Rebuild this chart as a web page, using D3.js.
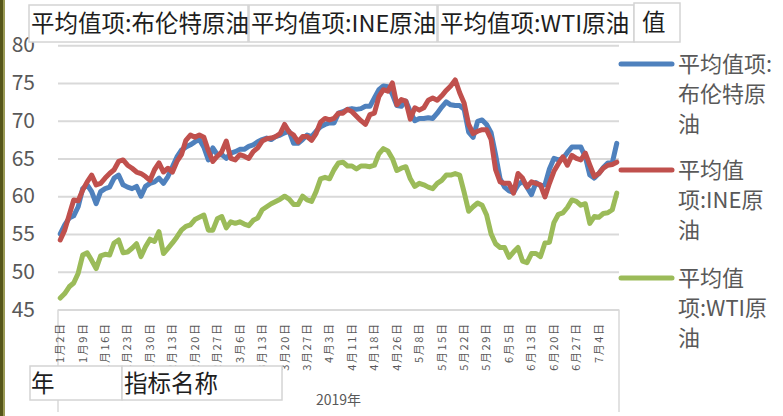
<!DOCTYPE html>
<html>
<head>
<meta charset="utf-8">
<script src="https://cdn.jsdelivr.net/npm/d3@7"></script>
<style>
body{margin:0;background:#fff;}
text{font-family:"Noto Sans CJK SC","Noto Sans",sans-serif;}
</style>
</head>
<body>
<svg id="chart" width="783" height="416"></svg>
<script>
// trading days, 2019
var dates = ["1月2日","1月3日","1月4日","1月7日","1月8日","1月9日","1月10日","1月11日","1月14日","1月15日","1月16日","1月17日","1月18日","1月21日","1月22日","1月23日","1月24日","1月25日","1月28日","1月29日","1月30日","1月31日",
"2月1日","2月11日","2月12日","2月13日","2月14日","2月15日","2月18日","2月19日","2月20日","2月21日","2月22日","2月25日","2月26日","2月27日","2月28日",
"3月1日","3月4日","3月5日","3月6日","3月7日","3月8日","3月11日","3月12日","3月13日","3月14日","3月15日","3月18日","3月19日","3月20日","3月21日","3月22日","3月25日","3月26日","3月27日","3月28日","3月29日",
"4月1日","4月2日","4月3日","4月4日","4月8日","4月9日","4月10日","4月11日","4月12日","4月15日","4月16日","4月17日","4月18日","4月22日","4月23日","4月24日","4月25日","4月26日","4月29日","4月30日",
"5月6日","5月7日","5月8日","5月9日","5月10日","5月13日","5月14日","5月15日","5月16日","5月17日","5月20日","5月21日","5月22日","5月23日","5月24日","5月27日","5月28日","5月29日","5月30日","5月31日",
"6月3日","6月4日","6月5日","6月6日","6月10日","6月11日","6月12日","6月13日","6月14日","6月17日","6月18日","6月19日","6月20日","6月21日","6月24日","6月25日","6月26日","6月27日","6月28日",
"7月1日","7月2日","7月3日","7月4日","7月5日","7月8日","7月9日","7月10日"];

var brent = [55.0,56.2,57.1,57.4,58.6,61.0,61.5,60.6,59.0,60.6,61.0,61.2,62.4,62.8,61.5,61.2,61.0,61.3,60.0,61.3,
61.7,61.9,62.4,61.7,62.6,63.9,65.2,66.1,66.5,66.8,67.2,67.5,66.5,64.8,66.4,65.5,65.5,65.0,65.7,65.9,
66.2,66.2,66.6,66.8,67.2,67.5,67.7,67.5,67.9,68.1,68.4,68.6,67.0,67.0,67.5,68.1,67.9,68.6,69.2,69.5,
69.7,69.7,71.0,71.2,71.5,71.6,71.5,71.6,71.9,71.9,73.0,74.1,74.6,74.5,73.5,72.0,71.9,72.6,71.2,70.0,
70.3,70.3,70.4,70.3,71.0,71.8,72.5,72.1,72.0,72.0,71.5,68.5,67.8,69.9,70.1,69.5,68.4,65.5,62.3,61.2,
60.7,60.5,61.5,62.0,61.2,60.2,61.8,61.4,61.5,63.6,65.0,64.8,65.0,65.8,66.5,66.5,66.5,65.2,62.8,62.4,
63.0,63.8,64.4,64.4,67.0];

var ine = [54.2,55.5,57.5,59.5,59.4,60.8,61.9,62.8,61.5,61.7,62.4,63.0,63.5,64.6,64.8,64.1,63.7,63.2,63.0,62.6,
62.1,63.5,64.4,63.2,63.7,63.2,64.6,65.5,67.4,68.1,67.8,68.1,67.8,66.0,64.6,65.3,65.9,67.3,65.0,64.8,
65.5,65.3,65.0,65.9,66.4,67.3,67.6,67.7,67.9,68.3,69.5,68.5,68.1,67.2,67.9,67.9,67.4,68.3,69.8,70.3,
70.1,70.3,71.0,71.0,71.5,71.2,70.6,70.0,69.5,70.8,71.0,73.2,74.1,73.9,75.0,72.1,72.8,72.6,70.2,71.7,
71.4,71.7,72.7,73.0,72.7,73.3,74.0,74.6,75.4,73.7,72.3,69.5,68.3,68.6,68.8,68.8,67.5,63.5,61.9,61.7,
61.7,60.4,63.0,62.4,61.2,61.9,61.7,61.5,59.9,61.7,63.3,64.3,65.2,64.1,65.4,65.0,64.8,65.7,64.1,62.6,
63.0,63.7,64.1,64.2,64.5];

var wti = [46.5,47.1,48.0,48.5,49.8,52.2,52.5,51.5,50.4,52.1,52.3,52.2,53.8,54.2,52.5,52.6,53.1,53.7,52.0,53.3,
54.3,54.0,55.3,52.4,53.1,53.8,54.6,55.5,56.0,56.2,56.9,57.2,57.5,55.5,55.5,57.0,57.3,55.8,56.6,56.4,
56.6,56.3,56.1,56.8,57.1,58.2,58.6,59.0,59.3,59.6,60.0,59.6,58.9,58.9,60.0,59.5,59.3,60.6,62.3,62.5,
62.3,63.5,64.4,64.5,64.0,64.0,63.6,64.0,64.0,63.9,64.1,65.6,66.3,66.0,65.0,63.4,63.7,63.9,62.3,61.3,
61.7,61.5,61.2,61.0,61.7,62.1,62.8,62.8,63.0,62.8,60.5,58.0,58.6,59.1,58.8,57.5,55.0,53.7,53.2,53.2,
51.9,52.6,53.2,51.4,51.2,52.4,52.4,52.0,53.8,53.9,56.5,57.6,57.8,58.5,59.5,59.3,58.8,59.0,56.4,57.3,
57.2,57.7,57.8,58.2,60.4];

var yTicks = [45,50,55,60,65,70,75,80];
var seriesNames = ["平均值项:布伦特原油","平均值项:INE原油","平均值项:WTI原油"];
var legendLines = [["平均值项:","布伦特原","油"],["平均值","项:INE原","油"],["平均值","项:WTI原","油"]];
var yearLabel = "2019年";
var colors = ["#4f81bd","#c0504d","#9bbb59"];

var svg = d3.select("#chart");
var plotLeft = 58, plotRight = 619, plotTop = 45.2, plotBottom = 309.4;

// left dark strip
svg.append("rect").attr("x",0).attr("y",0).attr("width",3).attr("height",416).attr("fill","#56561a");
svg.append("rect").attr("x",3).attr("y",0).attr("width",2).attr("height",416).attr("fill","#9a9a55");

var x = d3.scaleBand().domain(dates).range([plotLeft,plotRight]).padding(0);
var y = d3.scaleLinear().domain([45,80]).range([plotBottom,plotTop]);

// grid + y labels
var yAxis = svg.append("g").attr("transform","translate("+plotLeft+",0)")
  .call(d3.axisLeft(y).tickValues(yTicks).tickSize(-(plotRight-plotLeft)).tickPadding(23).tickFormat(d3.format("d")));
yAxis.select(".domain").remove();
yAxis.selectAll(".tick line").attr("stroke","#d9d9d9").attr("stroke-width",2);
yAxis.selectAll(".tick text").attr("fill","#595959").attr("font-size","21px")
  .attr("font-family","'Noto Sans CJK SC',sans-serif");

// category axis frame
svg.append("line").attr("x1",plotLeft).attr("x2",plotLeft).attr("y1",plotBottom).attr("y2",412).attr("stroke","#d9d9d9").attr("stroke-width",1.5);
svg.append("line").attr("x1",plotRight).attr("x2",plotRight).attr("y1",plotBottom).attr("y2",412).attr("stroke","#d9d9d9").attr("stroke-width",1.5);

var xAxis = svg.append("g").attr("transform","translate(0,"+plotBottom+")")
  .call(d3.axisBottom(x).tickValues(dates.filter(function(d,i){return i%5==0;})).tickSize(0).tickPadding(0));
xAxis.select(".domain").remove();
xAxis.selectAll(".tick text")
  .attr("transform","translate(0,13) rotate(-90)")
  .attr("text-anchor","end").attr("x",0).attr("y",0).attr("dy","0.35em")
  .attr("fill","#595959").attr("font-size","11px").attr("letter-spacing","1.6px");

svg.append("text").attr("x",(plotLeft+plotRight)/2).attr("y",405).attr("text-anchor","middle")
  .attr("fill","#595959").attr("font-size","14px").text(yearLabel);

// lines
var line = d3.line().x(function(d,i){return x(dates[i])+x.bandwidth()/2;}).y(function(d){return y(d);});
[brent,ine,wti].forEach(function(s,k){
  svg.append("path").datum(s).attr("d",line).attr("fill","none").attr("stroke",colors[k])
    .attr("stroke-width",5).attr("stroke-linejoin","round").attr("stroke-linecap","round");
});

// legend
var legY = [64,170,278];
legendLines.forEach(function(lines,k){
  svg.append("line").attr("x1",621).attr("x2",672).attr("y1",legY[k]).attr("y2",legY[k])
    .attr("stroke",colors[k]).attr("stroke-width",5).attr("stroke-linecap","round");
  lines.forEach(function(t,j){
    svg.append("text").attr("x",678).attr("y",legY[k]+j*30+8).attr("fill","#595959")
      .attr("font-size","22px").text(t);
  });
});

// field buttons
function button(x0,y0,w,h,label,clipId,pad){
  svg.append("clipPath").attr("id",clipId).append("rect").attr("x",x0).attr("y",y0).attr("width",w).attr("height",h);
  svg.append("rect").attr("x",x0).attr("y",y0).attr("width",w).attr("height",h)
    .attr("fill","#fff").attr("stroke","#d4d4d4").attr("stroke-width",1.5);
  svg.append("text").attr("x",x0+pad).attr("y",y0+h/2+8.5).attr("fill","#1e1e1e")
    .attr("font-size","23.5px").attr("clip-path","url(#"+clipId+")").text(label);
}
button(29,5,219,37,seriesNames[0],"b0",2);
button(249,5,188,37,seriesNames[1],"b1",2);
button(438,5,196,37,seriesNames[2],"b2",2);
button(634,3,46,39,"值","b3",8);
button(30,366,92,34,"年","b4",1);
button(122,366,160,34,"指标名称","b5",2);
</script>
</body>
</html>
